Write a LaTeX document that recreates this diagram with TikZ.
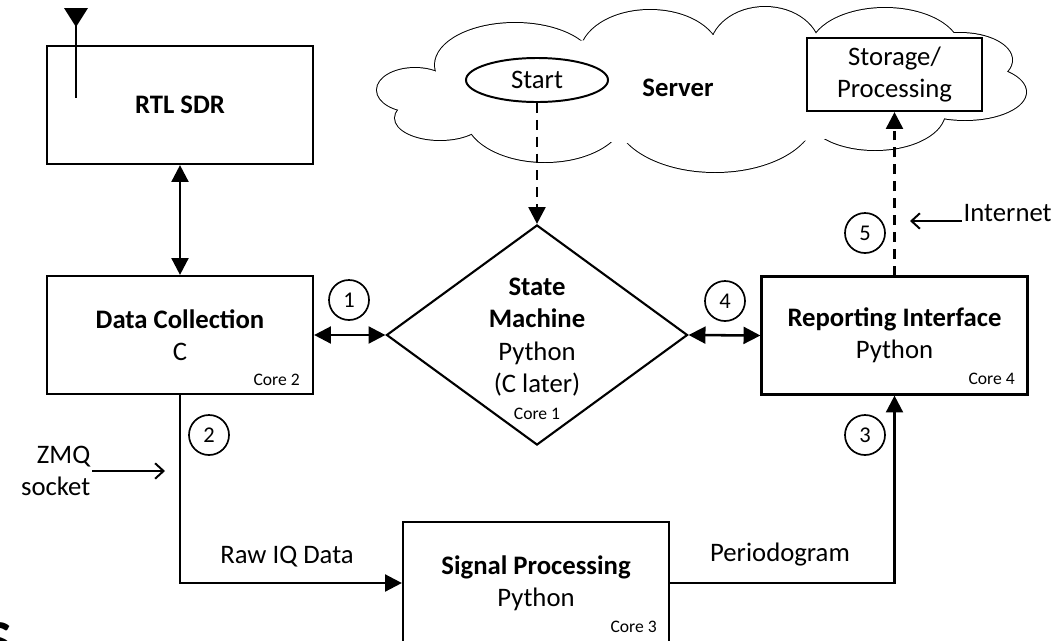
\documentclass[tikz,border=0pt]{standalone}
\usepackage{fontspec}
\setmainfont{Carlito}
\usetikzlibrary{arrows.meta,shapes.geometric}

\begin{document}
\begin{tikzpicture}[
    x=0.025cm, y=-0.025cm,
    >={Triangle[length=12pt,width=12pt]},
    font=\fontsize{19}{23}\selectfont,
    % Styles
    block/.style={
        rectangle, draw, line width=1.5pt, fill=white,
        align=center, inner sep=0pt,
        minimum width=6.65cm, minimum height=2.95cm
    },
    decision/.style={
        diamond, draw, line width=1.5pt, inner sep=0pt,
        minimum width=7.525cm, minimum height=5.5cm
    },
    storebox/.style={
        rectangle, draw, line width=1.5pt, fill=white,
        align=center, inner sep=0pt,
        minimum width=4.375cm, minimum height=1.825cm
    },
    ovalnode/.style={
        ellipse, draw, line width=1.4pt, fill=white, inner sep=0pt,
        minimum width=3.55cm, minimum height=1.1cm
    },
    puff/.style={line width=1.4pt},
    numcirc/.style={
        circle, draw, line width=1.2pt, inner sep=0pt, minimum size=1.0cm,
        font=\fontsize{16}{19}\selectfont
    },
    corelabel/.style={font=\fontsize{12.5}{15}\selectfont, inner sep=0pt},
    plainlabel/.style={inner sep=1pt, align=center},
    link/.style={line width=1.8pt},
    thinarrow/.style={line width=1.4pt, -{Straight Barb[length=6pt,width=11pt]}},
    dashlink/.style={line width=2pt, dash pattern=on 7pt off 5pt},
]

%--- Page frame ---%
\useasboundingbox (0,0) rectangle (1060,640);
\clip (0,0) rectangle (1060,640);

%--- Server cloud: outline of a union of puffs ---%
\foreach \cx/\cy/\rx/\ry in {415/90/38/22, 440/118/45/22, 515/65/80/42,
        650/55/70/45, 765/50/55/43, 885/50/75/42, 960/60/52/27,
        965/92/61/28, 875/112/70/38, 715/115/100/57, 545/115/80/47}
    \draw[puff] (\cx,\cy) ellipse [x radius=\rx, y radius=\ry];
\foreach \cx/\cy/\rx/\ry in {415/90/38/22, 440/118/45/22, 515/65/80/42,
        650/55/70/45, 765/50/55/43, 885/50/75/42, 960/60/52/27,
        965/92/61/28, 875/112/70/38, 715/115/100/57, 545/115/80/47,
        700/90/270/55}
    \fill[white] (\cx,\cy) ellipse [x radius=\rx, y radius=\ry];

\node[ovalnode] (start) at (537,80) {Start};
\node[plainlabel, font=\fontsize{19}{23}\selectfont\bfseries] (server) at (678,88) {Server};
\node[storebox] (storage) at (894.5,74.5) {Storage/\\Processing};

%--- Blocks ---%
\node[block] (rtl) at (180,105) {\textbf{RTL SDR}};
\node[block] (datacol) at (180,335) {\textbf{Data Collection}\\C};
\node[decision] (sm) at (537,335) {};
\node[plainlabel] (smtext) at (537,337) {\textbf{State}\\\textbf{Machine}\\Python\\(C later)};
\node[block] (report) at (894.5,335.5) {\textbf{Reporting Interface}\\Python};
\node[block, minimum height=3.05cm] (sigproc) at (536,583) {\textbf{Signal Processing}\\Python};

%--- Core labels ---%
\node[corelabel] (core1) at (537,414) {Core 1};
\node[corelabel, anchor=base east] (core2) at (300,385) {Core 2};
\node[corelabel, anchor=base east] (core3) at (657,632) {Core 3};
\node[corelabel, anchor=base east] (core4) at (1015,384) {Core 4};

%--- Antenna ---%
\fill (64,8) -- (88,8) -- (76,27) -- cycle;
\draw[line width=2pt] (76,20) -- (76,98);

%--- Step numbers ---%
\node[numcirc] (n1) at (349,300) {1};
\node[numcirc] (n2) at (209,435) {2};
\node[numcirc] (n3) at (865,435) {3};
\node[numcirc] (n4) at (725,301) {4};
\node[numcirc] (n5) at (865,233) {5};

%--- Connectors ---%
\draw[link, <->] (rtl) -- (datacol);
\draw[link, <->] (datacol.east) -- (sm.west);
\draw[link, <->] (sm.east) -- (report.west);
\draw[link, ->] (datacol.south) |- (sigproc.west);
\draw[link, ->] (sigproc.east) -| (report.south);
\draw[dashlink, ->] (start) -- (sm.north);
\draw[dashlink, ->] (report.north) -- (storage.south);

\node[plainlabel] (rawiq) at (287,557) {Raw IQ Data};
\node[plainlabel] (pgram) at (780,555) {Periodogram};

%--- Side notes ---%
\node[plainlabel, align=right, anchor=east] (zmq) at (92,471) {ZMQ\\socket};
\coordinate (zmqtip) at (165,471);
\draw[thinarrow] (zmq.east) -- (zmqtip);

\node[plainlabel, anchor=base west] (inet) at (962,221) {Internet};
\coordinate (inettip) at (910,221);
\draw[thinarrow] (inet.base west) -- (inettip);

%--- Cropped caption letter ---%
\node[inner sep=0pt, anchor=north east, font=\fontsize{40}{40}\selectfont\bfseries] (capS) at (12,622) {S};

\end{tikzpicture}
\end{document}
